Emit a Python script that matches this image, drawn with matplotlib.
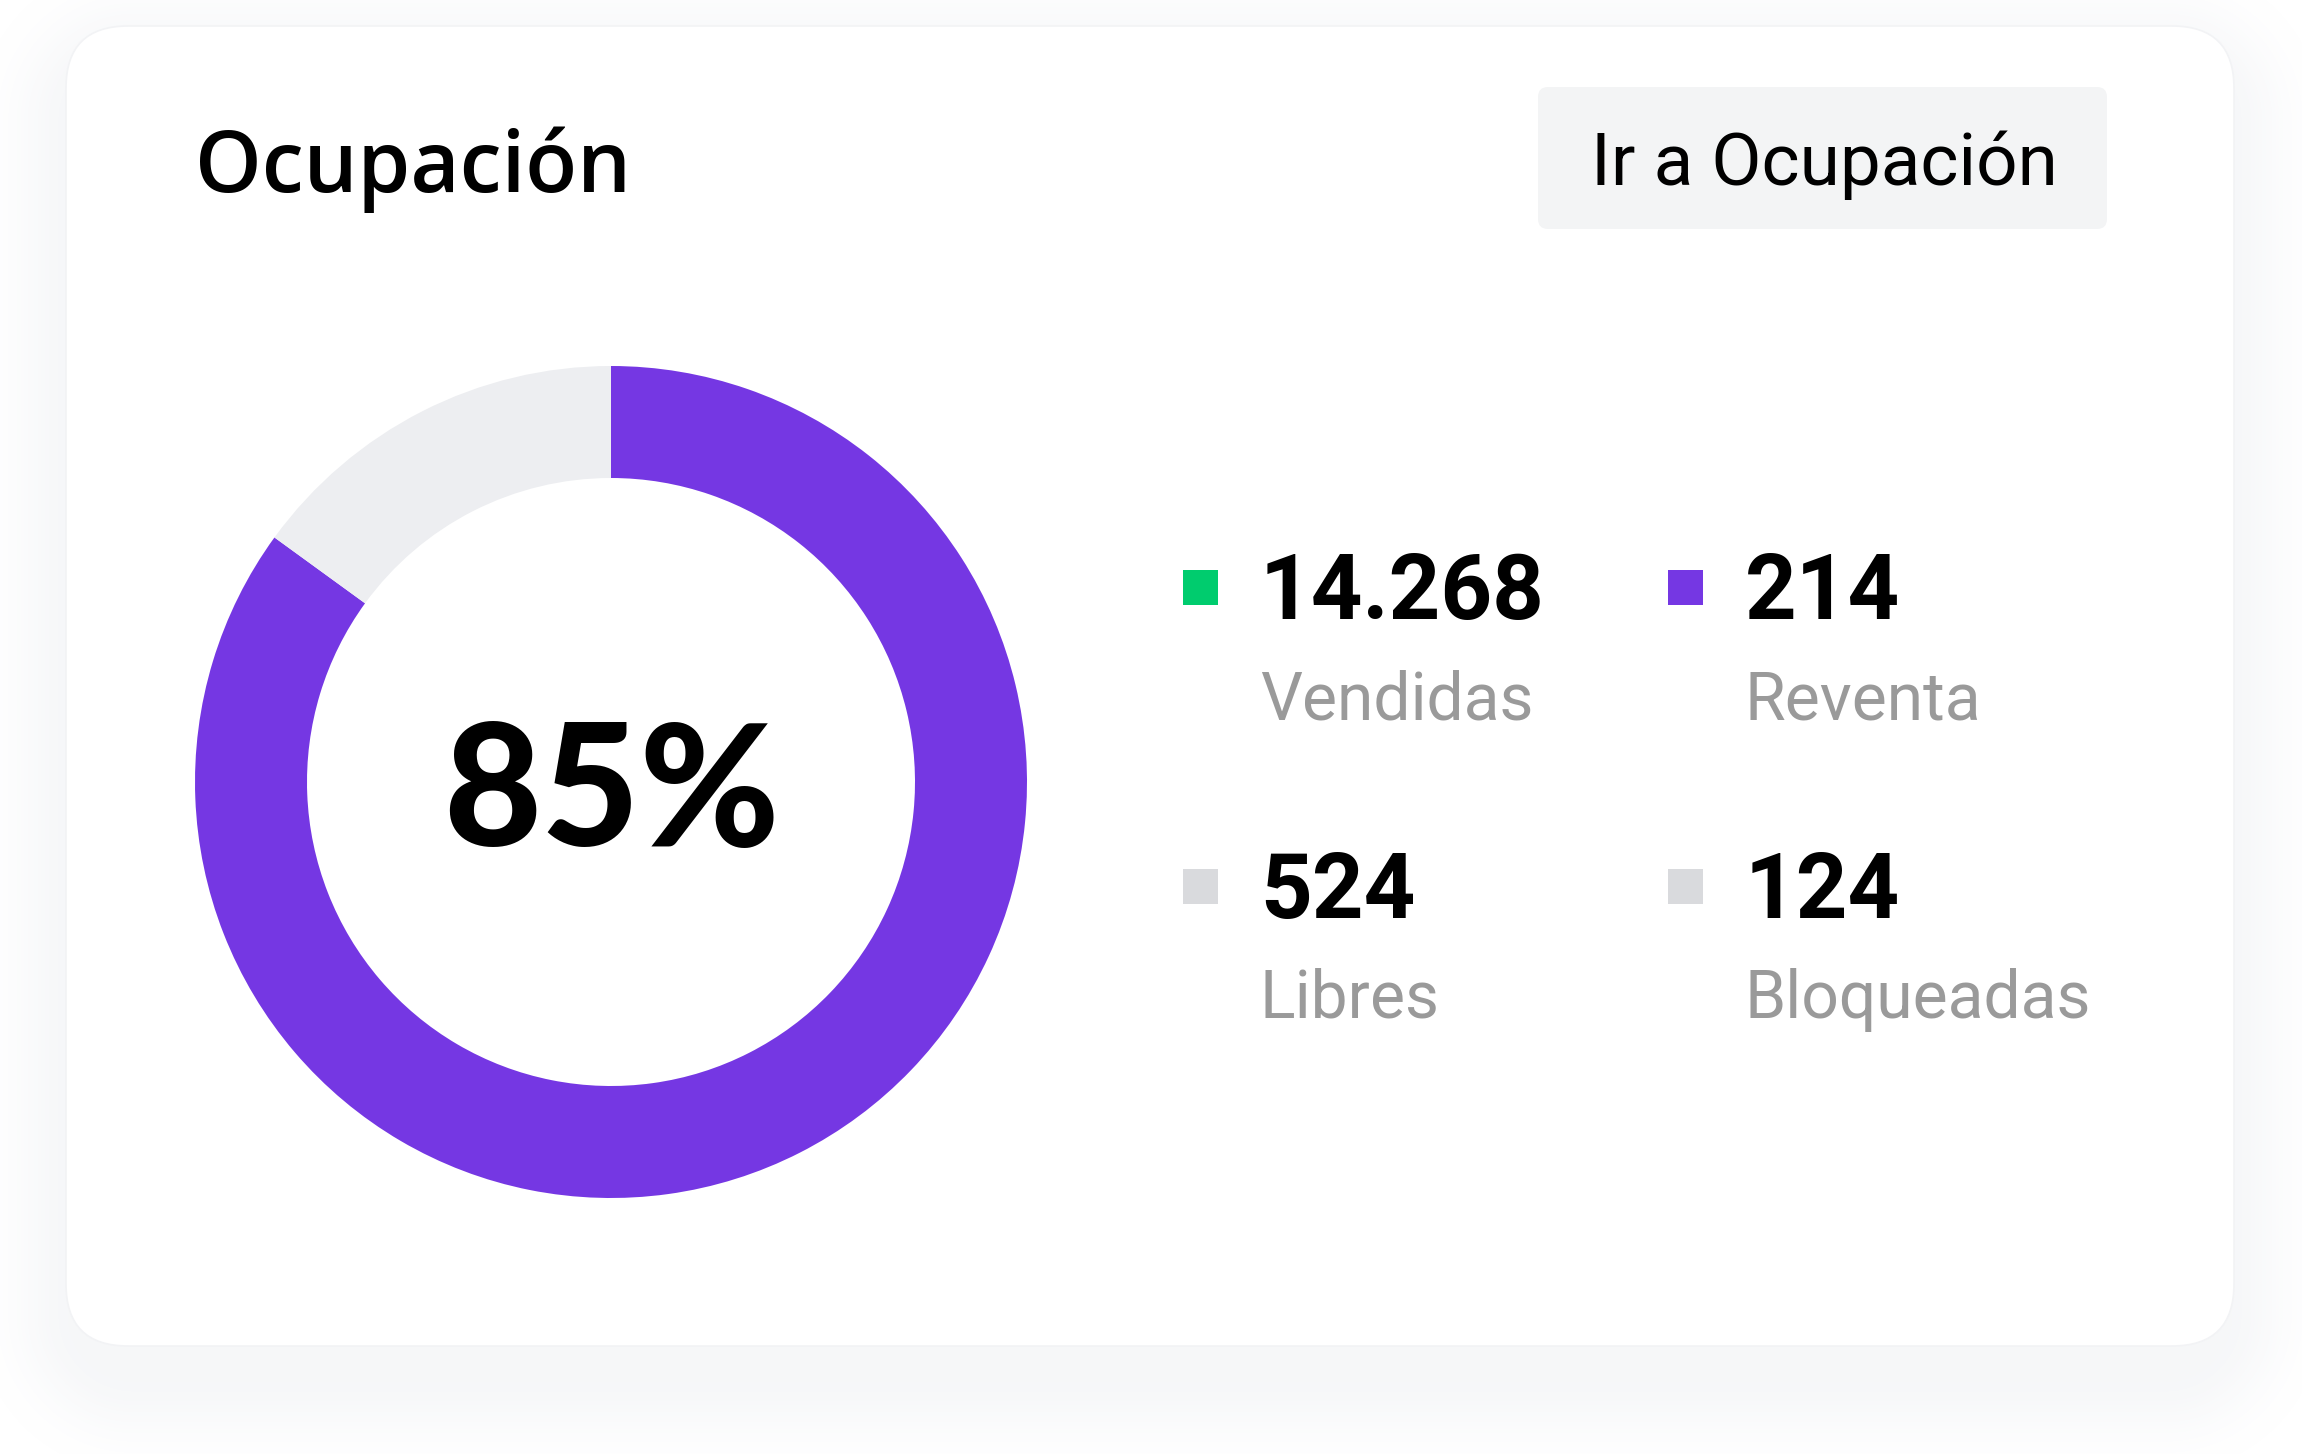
import matplotlib
matplotlib.use("Agg")
import numpy as np
import matplotlib.pyplot as plt
from matplotlib.patches import FancyBboxPatch, Rectangle

# ---- data ----
title = "Ocupación"
button_label = "Ir a Ocupación"
occupancy_pct = 85
donut_values = [occupancy_pct, 100 - occupancy_pct]
legend_values = ["14.268", "214", "524", "124"]
legend_labels = ["Vendidas", "Reventa", "Libres", "Bloqueadas"]
legend_colors = ["#00CC6E", "#7537E3", "#D9DADD", "#D9DADD"]
donut_colors = ["#7537E3", "#EDEEF1"]

W, H = 2302, 1454
fig = plt.figure(figsize=(W / 100, H / 100), dpi=100)
fig.patch.set_facecolor("white")

bg = fig.add_axes([0, 0, 1, 1])
bg.set_xlim(0, W)
bg.set_ylim(H, 0)
bg.axis("off")

# card geometry
cx0, cy0, cx1, cy1 = 66, 26, 2234, 1346
rad = 62

# soft shadow as a smooth image (signed distance to a shifted rounded rect)
yy, xx = np.mgrid[0:H, 0:W] + 0.5
scx, scy = (cx0 + cx1) / 2, (cy0 + cy1) / 2 + 32
hw, hh = (cx1 - cx0) / 2 - 6, (cy1 - cy0) / 2
qx = np.abs(xx - scx) - (hw - rad)
qy = np.abs(yy - scy) - (hh - rad)
d = np.hypot(np.maximum(qx, 0), np.maximum(qy, 0)) + np.minimum(np.maximum(qx, qy), 0) - rad
alpha = 0.075 * np.exp(-(np.maximum(d, 0) / 55.0) ** 2)
shadow = np.zeros((H, W, 4))
shadow[..., 0] = 0x8C / 255
shadow[..., 1] = 0x96 / 255
shadow[..., 2] = 0xAA / 255
shadow[..., 3] = alpha
bg.imshow(shadow, extent=(0, W, H, 0), origin="upper", aspect="auto",
          interpolation="bilinear", zorder=1)
bg.set_xlim(0, W)
bg.set_ylim(H, 0)

card = FancyBboxPatch((cx0, cy0), cx1 - cx0, cy1 - cy0,
                      boxstyle=f"round,pad=0,rounding_size={rad}",
                      facecolor="white", edgecolor="#F2F3F5", linewidth=1.2, zorder=2)
bg.add_patch(card)

# title
bg.text(195, 192, title, fontsize=61, family="Open Sans", fontweight="semibold",
        color="#000000", va="baseline", ha="left", zorder=3)

# button
btn = FancyBboxPatch((1538, 87), 2107 - 1538, 229 - 87,
                     boxstyle="round,pad=0,rounding_size=10",
                     facecolor="#F3F4F5", edgecolor="none", zorder=3)
bg.add_patch(btn)
bg.text(1591, 185, button_label, fontsize=52.5, family="Roboto", fontweight="normal",
        color="#000000", va="baseline", ha="left", zorder=4)

# legend grid
col_x = [1183, 1668]
row_y = [570, 869]
sq = 35
for i, (v, lab, c) in enumerate(zip(legend_values, legend_labels, legend_colors)):
    x = col_x[i % 2]
    y = row_y[i // 2]
    bg.add_patch(Rectangle((x, y), sq, sq, facecolor=c, edgecolor="none", zorder=4))
    bg.text(x + 77, y + 49, v, fontsize=65, family="Roboto", fontweight="bold",
            color="#000000", va="baseline", ha="left", zorder=4)
    bg.text(x + 77, y + 149, lab, fontsize=47.5, family="Roboto", fontweight="normal",
            color="#9A9A9A", va="baseline", ha="left", zorder=4)

# donut
dcx, dcy, R = 611, 782, 416
ax = fig.add_axes([(dcx - R) / W, 1 - (dcy + R) / H, 2 * R / W, 2 * R / H])
ax.pie(donut_values, colors=donut_colors, startangle=90, counterclock=False,
       radius=1.0, wedgeprops=dict(width=112 / 416, edgecolor="none", linewidth=0))
ax.set_xlim(-1, 1)
ax.set_ylim(-1, 1)
ax.set_aspect("equal")
ax.axis("off")
ax.patch.set_alpha(0)
ax.text(0, 0, f"{occupancy_pct}%", fontsize=122, family="Lato", fontweight="black",
        color="#000000", ha="center", va="center_baseline")

fig.savefig("out.png", dpi=100, facecolor="white")
